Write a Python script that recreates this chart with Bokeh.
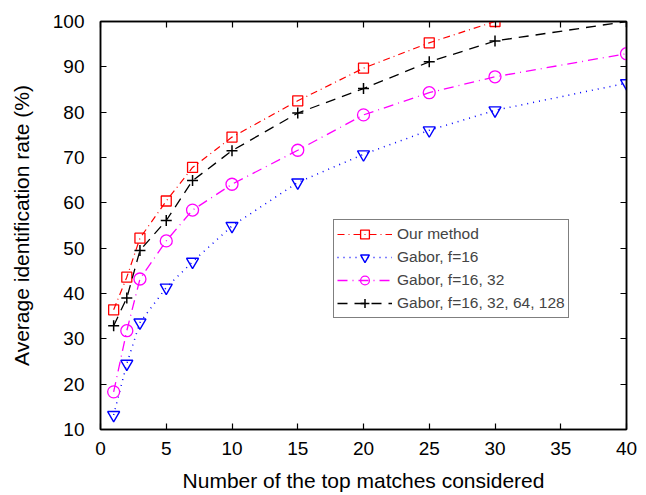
from bokeh.plotting import figure
from bokeh.models import LinearAxis, Legend, LegendItem, Range1d, FixedTicker
from bokeh.embed import file_html
from bokeh.resources import INLINE

x_ours = [1, 2, 3, 5, 7, 10, 15, 20, 25, 30]
y_ours = [36.4, 43.6, 52.2, 60.4, 67.8, 74.5, 82.5, 89.7, 95.3, 100.0]

x_g = [1, 2, 3, 5, 7, 10, 15, 20, 25, 30, 40]
y_g16 = [13.2, 24.5, 33.6, 41.3, 47.0, 54.9, 64.5, 70.7, 76.0, 80.4, 86.4]
y_g1632 = [18.3, 31.8, 43.2, 51.6, 58.4, 64.1, 71.6, 79.4, 84.3, 87.8, 92.9]
y_gall = [32.9, 39.0, 49.5, 56.1, 64.9, 71.5, 79.8, 85.2, 91.1, 95.7, 100.0]

x_ticks = [0, 5, 10, 15, 20, 25, 30, 35, 40]
y_ticks = [10, 20, 30, 40, 50, 60, 70, 80, 90, 100]

FONT = "Liberation Sans"

p = figure(width=638, height=494, output_backend="svg", toolbar_location=None,
           x_range=Range1d(0, 40), y_range=Range1d(10, 100),
           min_border_left=100, min_border_right=12, min_border_top=21, min_border_bottom=60)
p.xgrid.visible = False
p.ygrid.visible = False
p.outline_line_color = "black"
p.outline_line_width = 1.5
p.background_fill_color = "white"
p.border_fill_color = "white"

def style_axis(ax, ticks, labels=True):
    ax.ticker = FixedTicker(ticks=ticks)
    ax.major_tick_in = 6
    ax.major_tick_out = 0
    ax.minor_tick_in = 0
    ax.minor_tick_out = 0
    ax.axis_line_color = "black"
    ax.axis_line_width = 1.5
    ax.major_tick_line_width = 1.2
    ax.major_label_text_font = FONT
    ax.major_label_text_font_size = "19px"
    ax.major_label_text_color = "black"
    ax.axis_label_text_font = FONT
    ax.axis_label_text_font_size = "21px"
    ax.axis_label_text_font_style = "normal"
    ax.axis_label_text_color = "black"
    if not labels:
        ax.major_label_overrides = {t: "" for t in ticks}
        ax.major_label_standoff = 0

style_axis(p.xaxis[0], x_ticks)
style_axis(p.yaxis[0], y_ticks)
p.xaxis[0].axis_label = "Number of the top matches considered"
p.yaxis[0].axis_label = "Average identification rate (%)"
p.xaxis[0].major_label_standoff = 12
p.yaxis[0].major_label_standoff = 16
p.xaxis[0].axis_label_standoff = 11
p.yaxis[0].axis_label_standoff = 17

top = LinearAxis()
style_axis(top, x_ticks, labels=False)
p.add_layout(top, "above")
right = LinearAxis()
style_axis(right, y_ticks, labels=False)
p.add_layout(right, "right")

r1l = p.line(x_ours, y_ours, line_color="red", line_dash="7 4 1 4", line_width=1.2)
r1m = p.scatter(x_ours, y_ours, marker="square", size=10, fill_color=None, line_color="red", line_width=1.3)

r2l = p.line(x_g, y_g16, line_color="blue", line_dash="1 5", line_width=1.5)
r2m = p.scatter(x_g, y_g16, marker="inverted_triangle", size=12, fill_color=None, line_color="blue", line_width=1.4)

r3l = p.line(x_g, y_g1632, line_color="magenta", line_dash="10 5 1 5", line_width=1.3)
r3m = p.scatter(x_g, y_g1632, marker="circle", size=12, fill_color=None, line_color="magenta", line_width=1.3)

r4l = p.line(x_g, y_gall, line_color="black", line_dash="10 7", line_width=1.3)
r4m = p.scatter(x_g, y_gall, marker="cross", size=11, fill_color=None, line_color="black", line_width=1.5)

legend = Legend(items=[
    LegendItem(label="Our method", renderers=[r1l, r1m]),
    LegendItem(label="Gabor, f=16", renderers=[r2l, r2m]),
    LegendItem(label="Gabor, f=16, 32", renderers=[r3l, r3m]),
    LegendItem(label="Gabor, f=16, 32, 64, 128", renderers=[r4l, r4m]),
], location=(233, 111))
legend.label_text_font = FONT
legend.label_text_font_size = "15.5px"
legend.label_standoff = 5
legend.label_height = 22
legend.glyph_width = 55
legend.glyph_height = 22
legend.spacing = 1
legend.padding = 3
legend.margin = 0
legend.border_line_color = "black"
legend.border_line_width = 1.5
legend.background_fill_alpha = 1
p.add_layout(legend, "center")

open("out.html", "w").write(file_html(p, INLINE))
